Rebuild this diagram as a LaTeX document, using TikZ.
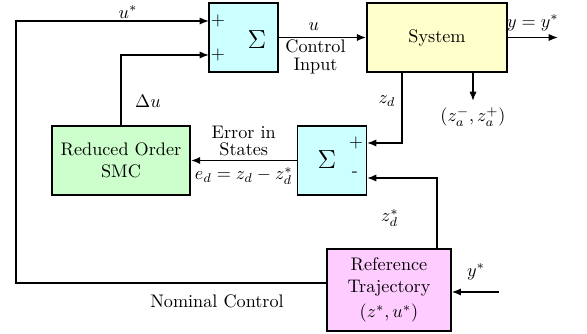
\documentclass[tikz,border=0pt]{standalone}
\usepackage{amsmath,amssymb}
\usetikzlibrary{arrows.meta, positioning, calc}
\definecolor{sumcol}{HTML}{CCFFFF}
\definecolor{syscol}{HTML}{FFFFCC}
\definecolor{smccol}{HTML}{CCFFCC}
\definecolor{refcol}{HTML}{FFCCFF}

\begin{document}
\begin{tikzpicture}[x=0.55pt, y=-0.55pt,
    blk/.style={draw, line width=0.9pt, align=center, inner sep=1pt},
    sumblk/.style={blk, fill=sumcol, minimum width=38pt, minimum height=38pt},
    link/.style={draw, line width=0.85pt, -{Latex[length=1.8mm, width=1.4mm]}},
    sig/.style={font=\Large}
]
    \useasboundingbox (0,0) rectangle (587,334);
    % blocks
    \node[sumblk] (sa) at (243.5,37.5) {};
    \node[blk, fill=syscol, minimum width=77pt, minimum height=38pt] (sys) at (437,37.5) {System};
    \node[sumblk] (sb) at (332,160.5) {};
    \node[blk, fill=smccol, minimum width=76pt, minimum height=38pt] (smc) at (121,160.5) {Reduced Order\\SMC};
    \node[blk, fill=refcol, minimum width=68pt, minimum height=45pt] (ref) at (389,290) {Reference\\Trajectory\\[2pt]$(z^*,u^*)$};
    % signs inside the summers
    \node[sig] (sasig) at (257,40) {$\Sigma$};
    \node (sap1) at (218,21) {$+$};
    \node (sap2) at (218,55) {$+$};
    \node[sig] (sbsig) at (327,160) {$\Sigma$};
    \node (sbp) at (356,143) {$+$};
    \node (sbm) at (355,174) {-};
    % ports
    \coordinate (sain1) at (209,21);
    \coordinate (sain2) at (209,55);
    \coordinate (sbin1) at (367,143);
    \coordinate (sbin2) at (367,178);
    \coordinate (zdout) at (402,72);
    \coordinate (zsout) at (437,249);
    \coordinate (corner) at (16,283);
    \coordinate (yin) at (499,292);
    \coordinate (yout) at (558,37.5);
    \node (za) at (473,117) {$(z_a^-,z_a^+)$};
    % connectors
    \draw[link] (sa.east) -- (sys.west)
        node[pos=0.4, above] {$u$}
        node[pos=0.42, below, align=center, inner sep=1pt, font=\linespread{0.8}\selectfont] {Control\\Input};
    \draw[link] (sys.east) -- (yout) node[midway, above] {$y=y^*$};
    \draw[link] (sys.south -| za) -- (za.north);
    \draw[link] (zdout) |- (sbin1);
    \draw[link] (zsout) |- (sbin2);
    \draw[link] (sb.west) -- (smc.east)
        node[midway, above, align=center, inner sep=2pt, font=\linespread{0.8}\selectfont] {Error in\\States}
        node[midway, below] {$e_d=z_d-z_d^*$};
    \draw[link] (smc.north) |- (sain2);
    \draw[link] (ref.west |- corner) -- (corner) |- (sain1);
    \draw[link] (yin) -- (ref.east |- yin);
    % labels
    \node at (128,12) {$u^*$};
    \node at (148,101) {$\Delta u$};
    \node at (387,101) {$z_d$};
    \node at (390,218) {$z_d^*$};
    \node at (476,272) {$y^*$};
    \node at (217,301) {Nominal Control};
\end{tikzpicture}
\end{document}
